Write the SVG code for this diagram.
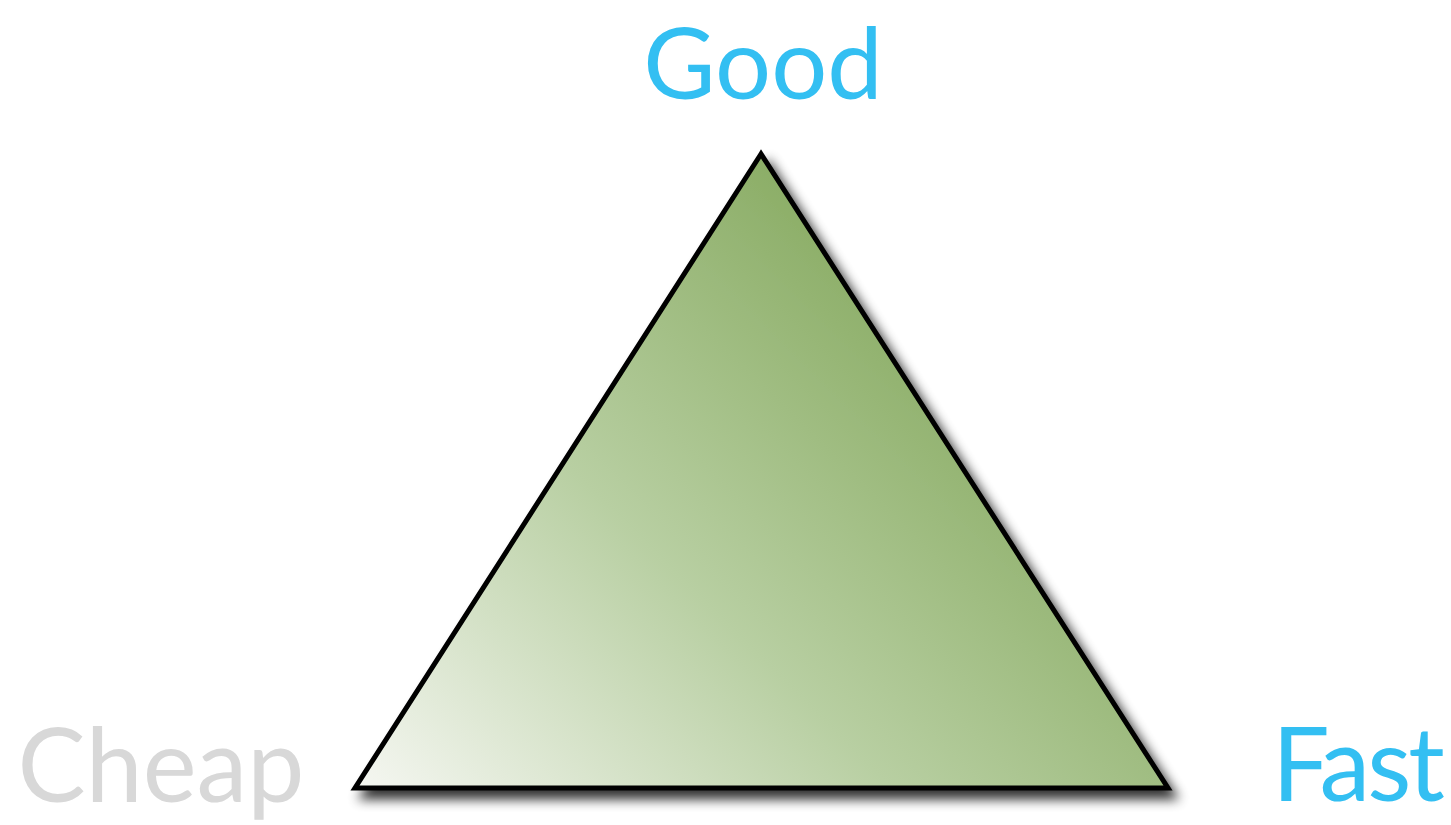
<svg xmlns="http://www.w3.org/2000/svg" width="1451" height="825" viewBox="0 0 1451 825">
<style>
.lbl{font-family:Lato,"Open Sans","Liberation Sans",sans-serif;font-size:102px;font-weight:400;text-anchor:middle}
.blue{fill:#33bff2}
.gray{fill:#d8d8d8}
</style>
<defs>
<linearGradient id="g" gradientUnits="userSpaceOnUse" x1="354" y1="800" x2="900" y2="250">
<stop offset="0" stop-color="#f7f8f4"/>
<stop offset="0.5" stop-color="#b8cfa2"/>
<stop offset="1" stop-color="#88ab62"/>
</linearGradient>
<filter id="sh" x="-10%" y="-10%" width="125%" height="125%">
<feGaussianBlur in="SourceAlpha" stdDeviation="6"/>
<feOffset dx="7" dy="9" result="b"/>
<feComponentTransfer><feFuncA type="linear" slope="0.8"/></feComponentTransfer>
<feMerge><feMergeNode/><feMergeNode in="SourceGraphic"/></feMerge>
</filter>
</defs>
<rect width="1451" height="825" fill="#fff"/>
<g id="triangle">
<polygon points="761,154 355,788 1168,788" fill="url(#g)" stroke="#000" stroke-width="5" stroke-linejoin="miter" filter="url(#sh)"/>
</g>
<g id="good"><text class="lbl blue" x="763" y="99" style="font-size:99px">Good</text></g>
<g id="cheap"><text class="lbl gray" x="161" y="802">Cheap</text></g>
<g id="fast"><text class="lbl blue" x="1357" y="801" letter-spacing="-3">Fast</text></g>
<g id="connectors"/>
</svg>
